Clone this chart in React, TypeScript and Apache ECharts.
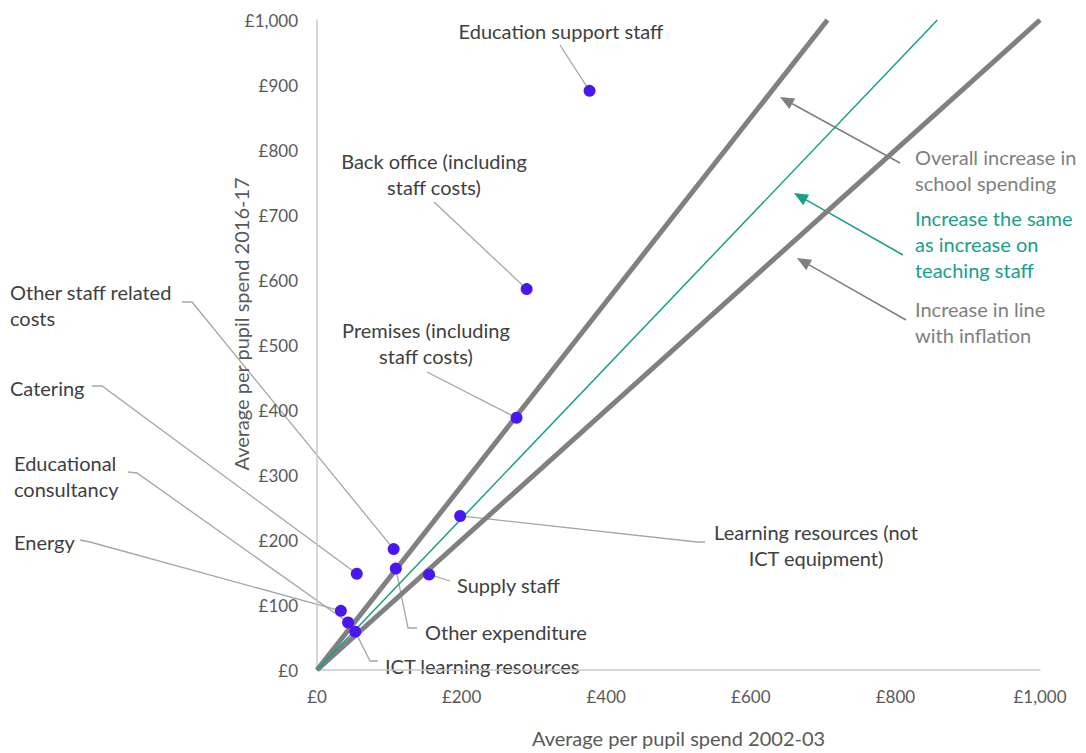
import React, { useEffect, useRef } from "react";
import * as echarts from "echarts";

// ---- Data ----
const categories = [
  "Education support staff",
  "Back office (including staff costs)",
  "Premises (including staff costs)",
  "Learning resources (not ICT equipment)",
  "Other staff related costs",
  "Catering",
  "Other expenditure",
  "Supply staff",
  "Energy",
  "Educational consultancy",
  "ICT learning resources",
];
const spend2002_03 = [377, 290, 276, 198, 106, 55, 109, 155, 33, 43, 53];
const spend2016_17 = [891, 586, 388, 237, 186, 148, 156, 147, 91, 73, 59];

const overallIncreaseLine = [[0, 0], [706, 1000]];
const teachingStaffLine = [[0, 0], [858, 1000]];
const inflationLine = [[0, 0], [1000, 1000]];

const xTicks = [0, 200, 400, 600, 800, 1000];
const yTicks = [0, 100, 200, 300, 400, 500, 600, 700, 800, 900, 1000];

// ---- Annotation layout (pixels) ----
const labelText = [
  "Education support staff",
  "Back office (including\nstaff costs)",
  "Premises (including\nstaff costs)",
  "Learning resources (not\nICT equipment)",
  "Other staff related\ncosts",
  "Catering",
  "Other expenditure",
  "Supply staff",
  "Energy",
  "Educational\nconsultancy",
  "ICT learning resources",
];
const labelLayout = [
  { x: 561, y: 31, align: "center", leader: [[560, 45]] },
  { x: 434, y: 174, align: "center", leader: [[434, 202]] },
  { x: 426, y: 343, align: "center", leader: [[427, 372]] },
  { x: 816, y: 545, align: "center", leader: [[705, 542], [697, 542]] },
  { x: 10, y: 305, align: "left", leader: [[182, 302], [192, 302]] },
  { x: 10, y: 388, align: "left", leader: [[92, 386], [102, 386]] },
  { x: 425, y: 632, align: "left", leader: [[417, 628], [408, 628]] },
  { x: 457, y: 585, align: "left", leader: [[450, 581]] },
  { x: 14, y: 542, align: "left", leader: [[80, 540], [90, 542]] },
  { x: 14, y: 476, align: "left", leader: [[128, 472], [137, 473]] },
  { x: 385, y: 666, align: "left", leader: [[378, 661], [370, 661]] },
];

const lineNotes = [
  { text: "Overall increase in\nschool spending", x: 915, y: 170, color: "#7f7f7f", from: [900, 163], to: [780, 97] },
  { text: "Increase the same\nas increase on\nteaching staff", x: 915, y: 244, color: "#17a08a", from: [903, 255], to: [794, 193] },
  { text: "Increase in line\nwith inflation", x: 915, y: 322, color: "#7f7f7f", from: [906, 320], to: [797, 258] },
];

const FONT = "Lato, 'Noto Sans', sans-serif";

function arrowHead(from: number[], to: number[], len: number, half: number) {
  const dx = to[0] - from[0];
  const dy = to[1] - from[1];
  const d = Math.sqrt(dx * dx + dy * dy);
  const ux = dx / d, uy = dy / d;
  const bx = to[0] - ux * len, by = to[1] - uy * len;
  return [
    [to[0], to[1]],
    [bx - uy * half, by + ux * half],
    [bx + uy * half, by - ux * half],
  ];
}

export default function App() {
  const ref = useRef<HTMLDivElement>(null);
  useEffect(() => {
    const chart = echarts.init(ref.current!, null, { renderer: "svg" });
    const money = (v: number) => "£" + v.toLocaleString("en-GB");
    const option: any = {
      animation: false,
      backgroundColor: "#ffffff",
      grid: { left: 317, right: 46, top: 20, bottom: 71, containLabel: false },
      xAxis: {
        type: "value",
        min: xTicks[0],
        max: xTicks[xTicks.length - 1],
        interval: 200,
        axisLine: { show: true, lineStyle: { color: "#c8c8c8", width: 1.5 } },
        axisTick: { show: false },
        splitLine: { show: false },
        axisLabel: { formatter: money, color: "#595959", fontSize: 17, fontFamily: FONT, margin: 18 },
        name: "Average per pupil spend 2002-03",
        nameLocation: "middle",
        nameGap: 58,
        nameTextStyle: { color: "#595959", fontSize: 20, fontFamily: FONT },
      },
      yAxis: {
        type: "value",
        min: yTicks[0],
        max: yTicks[yTicks.length - 1],
        interval: 100,
        axisLine: { show: true, lineStyle: { color: "#c8c8c8", width: 1.5 } },
        axisTick: { show: false },
        splitLine: { show: false },
        axisLabel: { formatter: money, color: "#595959", fontSize: 17, fontFamily: FONT, margin: 19 },
      },
      series: [
        {
          type: "line",
          data: inflationLine,
          showSymbol: false,
          lineStyle: { color: "#808080", width: 5 },
          z: 1,
          silent: true,
        },
        {
          type: "line",
          data: overallIncreaseLine,
          showSymbol: false,
          lineStyle: { color: "#808080", width: 5 },
          z: 1,
          silent: true,
        },
        {
          type: "line",
          data: teachingStaffLine,
          showSymbol: false,
          lineStyle: { color: "#17a08a", width: 1.5 },
          z: 1,
          silent: true,
        },
        {
          type: "scatter",
          name: "Spend",
          data: spend2002_03.map((x, i) => ({ name: categories[i], value: [x, spend2016_17[i]] })),
          symbolSize: 12,
          itemStyle: { color: "#4a17f2", opacity: 1 },
          z: 5,
        },
      ],
    };
    chart.setOption(option);

    const graphics: any[] = [];
    labelLayout.forEach((l, i) => {
      const p = chart.convertToPixel({ gridIndex: 0 }, [spend2002_03[i], spend2016_17[i]]) as number[];
      graphics.push({
        type: "polyline",
        z: 0,
        shape: { points: [...l.leader, p] },
        style: { stroke: "#a6a6a6", lineWidth: 1.3, fill: null },
      });
      graphics.push({
        type: "text",
        x: l.x,
        y: l.y,
        z: 0,
        style: {
          text: labelText[i],
          fill: "#404040",
          font: `20px ${FONT}`,
          lineHeight: 26,
          textAlign: l.align,
          textVerticalAlign: "middle",
        },
      });
    });
    lineNotes.forEach((n) => {
      const head = arrowHead(n.from, n.to, 14, 6);
      graphics.push({
        type: "line",
        z: 0,
        shape: { x1: n.from[0], y1: n.from[1], x2: (head[1][0] + head[2][0]) / 2, y2: (head[1][1] + head[2][1]) / 2 },
        style: { stroke: n.color, lineWidth: 1.5 },
      });
      graphics.push({ type: "polygon", z: 0, shape: { points: head }, style: { fill: n.color } });
      graphics.push({
        type: "text",
        x: n.x,
        y: n.y,
        z: 0,
        style: {
          text: n.text,
          fill: n.color,
          font: `20px ${FONT}`,
          lineHeight: 26,
          textAlign: "left",
          textVerticalAlign: "middle",
        },
      });
    });
    graphics.push({
      type: "text",
      x: 241,
      y: 324,
      rotation: Math.PI / 2,
      style: {
        text: "Average per pupil spend 2016-17",
        fill: "#595959",
        font: `20px ${FONT}`,
        textAlign: "center",
        textVerticalAlign: "middle",
      },
    });
    chart.setOption({ graphic: graphics });
    return () => chart.dispose();
  }, []);
  return <div ref={ref} style={{ position: "fixed", left: 0, top: 0, width: 1086, height: 753 }} />;
}
